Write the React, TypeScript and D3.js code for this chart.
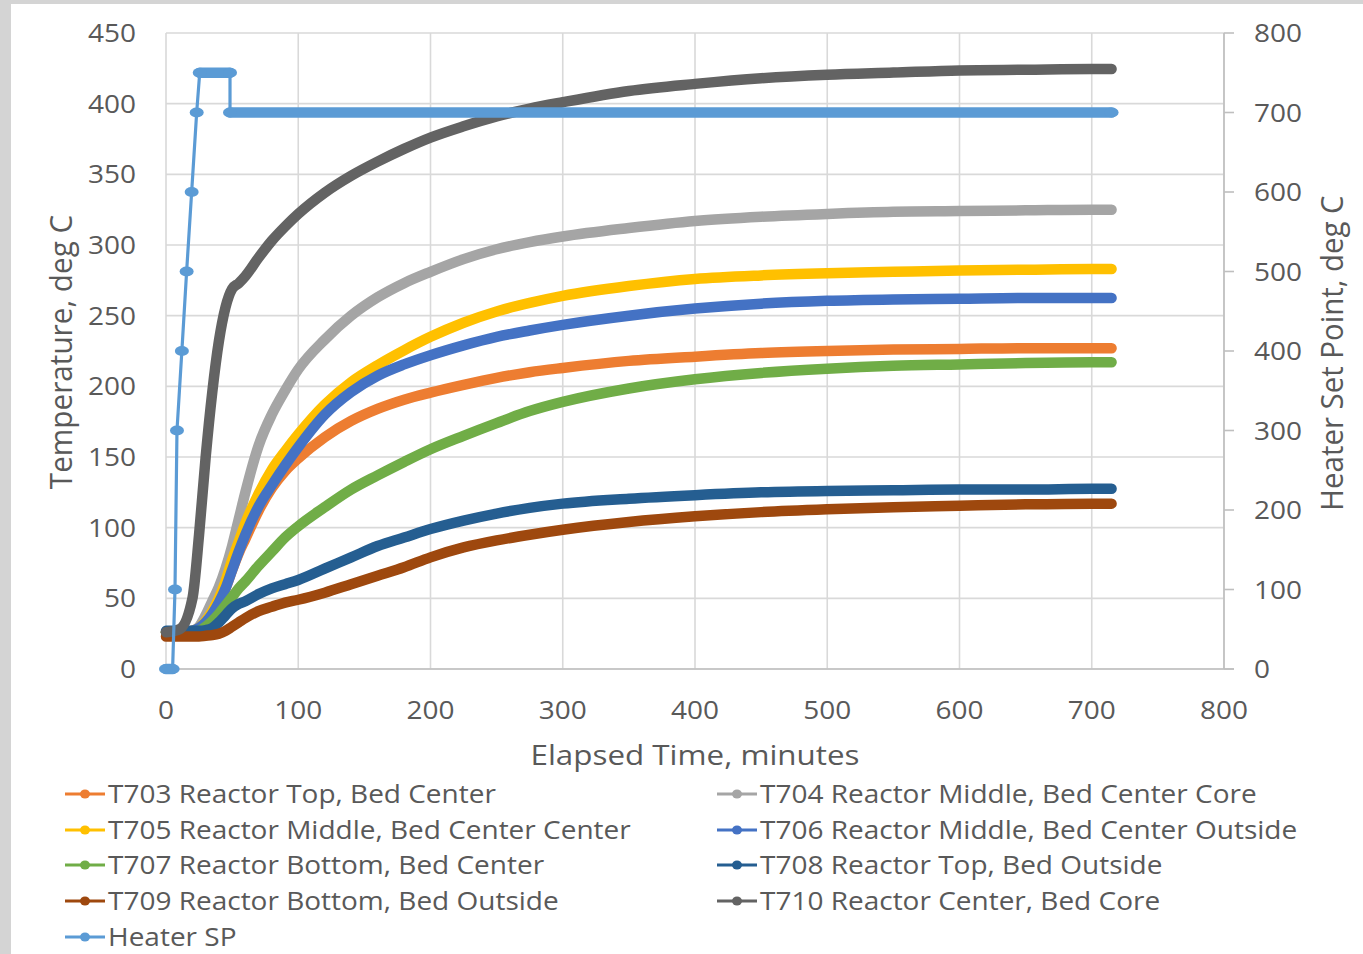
import React from "react";
import * as d3 from "d3";

// ---------- data ----------
const times = [0, 10, 20, 25, 30, 35, 40, 45, 50, 55, 60, 70, 80, 90, 100, 120, 140, 160, 180, 200, 225, 250, 275, 300, 350, 400, 450, 500, 550, 600, 650, 700, 715];

const t703 = [26, 26, 27, 29, 33, 39, 47, 57, 70, 82, 92, 112, 128, 140, 149, 164, 175.5, 184, 190.5, 195.5, 201, 206, 210, 213, 218, 221, 223.5, 225, 226, 226.5, 227, 227, 227];
const t704 = [26, 26, 27, 30, 38, 48, 58, 71, 87, 106, 125, 158, 180, 197, 212, 233, 250, 263, 273, 281, 290, 297, 302, 306, 312, 317, 320, 322, 323.5, 324, 324.5, 325, 325];
const t705 = [26, 26, 27, 29, 34, 41, 50, 62, 77, 90, 103, 124, 141, 154, 166, 187, 203, 215, 225.5, 235, 245, 253, 259, 264, 271, 276, 278.5, 280, 281, 282, 282.5, 283, 283];
const t706 = [26, 26, 27, 29, 33, 39, 47, 57, 70, 83, 95, 115, 130, 144, 157, 180, 196, 207.5, 215.5, 222, 229, 235, 239.5, 243.5, 250, 255, 258.5, 260.5, 261.5, 262, 262.5, 262.5, 262.5];
const t707 = [26, 26, 26, 27, 30, 34, 39, 45, 51, 57, 62, 73, 83, 93, 101, 114.5, 127, 137, 146.5, 155.5, 165, 174, 182.5, 189, 198.5, 205, 209.5, 212.5, 214.5, 215.5, 216.5, 217, 217];
const t708 = [27, 27, 27, 27, 27.5, 29, 33, 38, 43, 46, 48, 53, 57, 60, 63, 71, 79, 87, 93, 99, 105, 110, 114, 117, 120.5, 123, 125, 126, 126.5, 127, 127, 127.5, 127.5];
const t709 = [23, 23, 23, 23, 23.5, 24, 25, 27, 30, 33, 36, 41, 44, 47, 49, 54, 60, 66, 72, 79, 86, 91, 95, 98.5, 104, 108, 111, 113, 114.5, 115.5, 116.5, 117, 117];
const t710 = [26, 28, 50, 95, 150, 196, 232, 256, 269, 273, 278, 291, 303, 313, 322, 337, 349, 359, 368, 376, 384, 391, 396.5, 401, 409, 414, 418, 420.5, 422, 423.5, 424, 424.5, 424.5];

const spTime = [0, 5, 6.8, 8.3, 12, 15.6, 19.4, 23.2, 25.5, 48.4, 48.4, 715];
const spValue = [0, 0, 100, 300, 400, 500, 600, 700, 750, 750, 700, 700];

const seriesNames = [
  "T703 Reactor Top, Bed Center",
  "T704 Reactor Middle, Bed Center Core",
  "T705 Reactor Middle, Bed Center Center",
  "T706 Reactor Middle, Bed Center Outside",
  "T707 Reactor Bottom, Bed Center",
  "T708 Reactor Top, Bed Outside",
  "T709 Reactor Bottom, Bed Outside",
  "T710 Reactor Center, Bed Core",
];
const seriesValues = [t703, t704, t705, t706, t707, t708, t709, t710];
const seriesColors = ["#ed7d31", "#a5a5a5", "#ffc000", "#4472c4", "#70ad47", "#255e91", "#9e480e", "#636363"];
const spName = "Heater SP";
const spColor = "#5b9bd5";

const xTicks = [0, 100, 200, 300, 400, 500, 600, 700, 800];
const yLeftTicks = [0, 50, 100, 150, 200, 250, 300, 350, 400, 450];
const yRightTicks = [0, 100, 200, 300, 400, 500, 600, 700, 800];

const xTitle = "Elapsed Time, minutes";
const yLeftTitle = "Temperature, deg C";
const yRightTitle = "Heater Set Point, deg C";

// ---------- layout ----------
const W = 1363;
const H = 954;
const plot = { left: 166, right: 1224, top: 33, bottom: 669 };
const FONT = "'Open Sans', 'Liberation Sans', sans-serif";
const TXT = "#595959";
const SX = 1.12;

export default function App() {
  const x = d3.scaleLinear().domain([0, 800]).range([plot.left, plot.right]);
  const yL = d3.scaleLinear().domain([0, 450]).range([plot.bottom, plot.top]);
  const yR = d3.scaleLinear().domain([0, 800]).range([plot.bottom, plot.top]);

  const line = d3
    .line<[number, number]>()
    .x((d) => x(d[0]))
    .y((d) => yL(d[1]))
    .curve(d3.curveMonotoneX);

  const spPts: [number, number][] = spTime.map((t, i) => [t, spValue[i]]);
  const spSegs: { a: [number, number]; b: [number, number]; flat: boolean }[] = [];
  for (let i = 1; i < spPts.length; i++) {
    spSegs.push({ a: spPts[i - 1], b: spPts[i], flat: spPts[i - 1][1] === spPts[i][1] });
  }

  const legendLeft = [0, 2, 4, 6];
  const legendRight = [1, 3, 5, 7];
  const legendRowY = [794, 830, 865, 901, 937];

  const legendItem = (key: string, lx: number, ly: number, color: string, label: string) => (
    <g key={key}>
      <line x1={lx} x2={lx + 40} y1={ly} y2={ly} stroke={color} strokeWidth={3} />
      <ellipse cx={lx + 20} cy={ly} rx={5} ry={4.5} fill={color} />
      <text
        transform={`translate(${lx + 43},${ly}) scale(${SX},1)`}
        dy="0.36em"
        fontSize={25}
        fill={TXT}
        fontFamily={FONT}
      >
        {label}
      </text>
    </g>
  );

  return (
    <svg
      width={W}
      height={H}
      style={{ position: "absolute", left: 0, top: 0, display: "block" }}
      xmlns="http://www.w3.org/2000/svg"
    >
      <rect x={0} y={0} width={W} height={H} fill="#d4d4d4" />
      <rect x={11} y={4} width={W - 11} height={H - 4} fill="#ffffff" />

      {/* grid */}
      {yLeftTicks.map((t) => (
        <line key={"gy" + t} x1={plot.left} x2={plot.right} y1={yL(t)} y2={yL(t)} stroke="#d9d9d9" strokeWidth={1.6} />
      ))}
      {xTicks.map((t) => (
        <line key={"gx" + t} x1={x(t)} x2={x(t)} y1={plot.top} y2={plot.bottom} stroke="#d9d9d9" strokeWidth={1.6} />
      ))}
      {/* axes lines */}
      <line x1={plot.left} x2={plot.right + 10} y1={plot.bottom} y2={plot.bottom} stroke="#bfbfbf" strokeWidth={1.6} />
      <line x1={plot.right} x2={plot.right} y1={plot.top} y2={plot.bottom} stroke="#bfbfbf" strokeWidth={1.6} />
      {yRightTicks.map((t) => (
        <line key={"rt" + t} x1={plot.right} x2={plot.right + 10} y1={yR(t)} y2={yR(t)} stroke="#bfbfbf" strokeWidth={1.6} />
      ))}

      {/* temperature series */}
      {seriesValues.map((vals, i) => (
        <path
          key={"s" + i}
          d={line(times.map((t, j) => [t, vals[j]] as [number, number])) || ""}
          fill="none"
          stroke={seriesColors[i]}
          strokeWidth={10.5}
          strokeLinecap="round"
          strokeLinejoin="round"
        />
      ))}

      {/* heater SP */}
      {spSegs.map((s, i) => (
        <line
          key={"sp" + i}
          x1={x(s.a[0])}
          y1={yR(s.a[1])}
          x2={x(s.b[0])}
          y2={yR(s.b[1])}
          stroke={spColor}
          strokeWidth={s.flat ? 10.5 : 3.2}
          strokeLinecap="round"
        />
      ))}
      {spPts.map((p, i) => (
        <ellipse key={"spm" + i} cx={x(p[0])} cy={yR(p[1])} rx={7} ry={5} fill={spColor} />
      ))}

      {/* tick labels */}
      {yLeftTicks.map((t) => (
        <text
          key={"yl" + t}
          transform={`translate(136,${yL(t)}) scale(${SX},1)`}
          dy="0.36em"
          textAnchor="end"
          fontSize={25}
          fill={TXT}
          fontFamily={FONT}
        >
          {t}
        </text>
      ))}
      {yRightTicks.map((t) => (
        <text
          key={"yr" + t}
          transform={`translate(1254,${yR(t)}) scale(${SX},1)`}
          dy="0.36em"
          textAnchor="start"
          fontSize={25}
          fill={TXT}
          fontFamily={FONT}
        >
          {t}
        </text>
      ))}
      {xTicks.map((t) => (
        <text
          key={"xl" + t}
          transform={`translate(${x(t)},710) scale(${SX},1)`}
          dy="0.36em"
          textAnchor="middle"
          fontSize={25}
          fill={TXT}
          fontFamily={FONT}
        >
          {t}
        </text>
      ))}

      {/* axis titles */}
      <text
        transform={`translate(${(plot.left + plot.right) / 2},755) scale(${SX},1)`}
        dy="0.36em"
        textAnchor="middle"
        fontSize={28}
        fill={TXT}
        fontFamily={FONT}
      >
        {xTitle}
      </text>
      <text
        transform={`translate(61,352) rotate(-90) scale(1.1,${SX})`}
        dy="0.36em"
        textAnchor="middle"
        fontSize={27}
        fill={TXT}
        fontFamily={FONT}
      >
        {yLeftTitle}
      </text>
      <text
        transform={`translate(1332,353) rotate(-90) scale(1.09,${SX})`}
        dy="0.36em"
        textAnchor="middle"
        fontSize={27}
        fill={TXT}
        fontFamily={FONT}
      >
        {yRightTitle}
      </text>

      {/* legend */}
      {legendLeft.map((si, r) => legendItem("ll" + si, 65, legendRowY[r], seriesColors[si], seriesNames[si]))}
      {legendRight.map((si, r) => legendItem("lr" + si, 717, legendRowY[r], seriesColors[si], seriesNames[si]))}
      {legendItem("lsp", 65, legendRowY[4], spColor, spName)}
    </svg>
  );
}
